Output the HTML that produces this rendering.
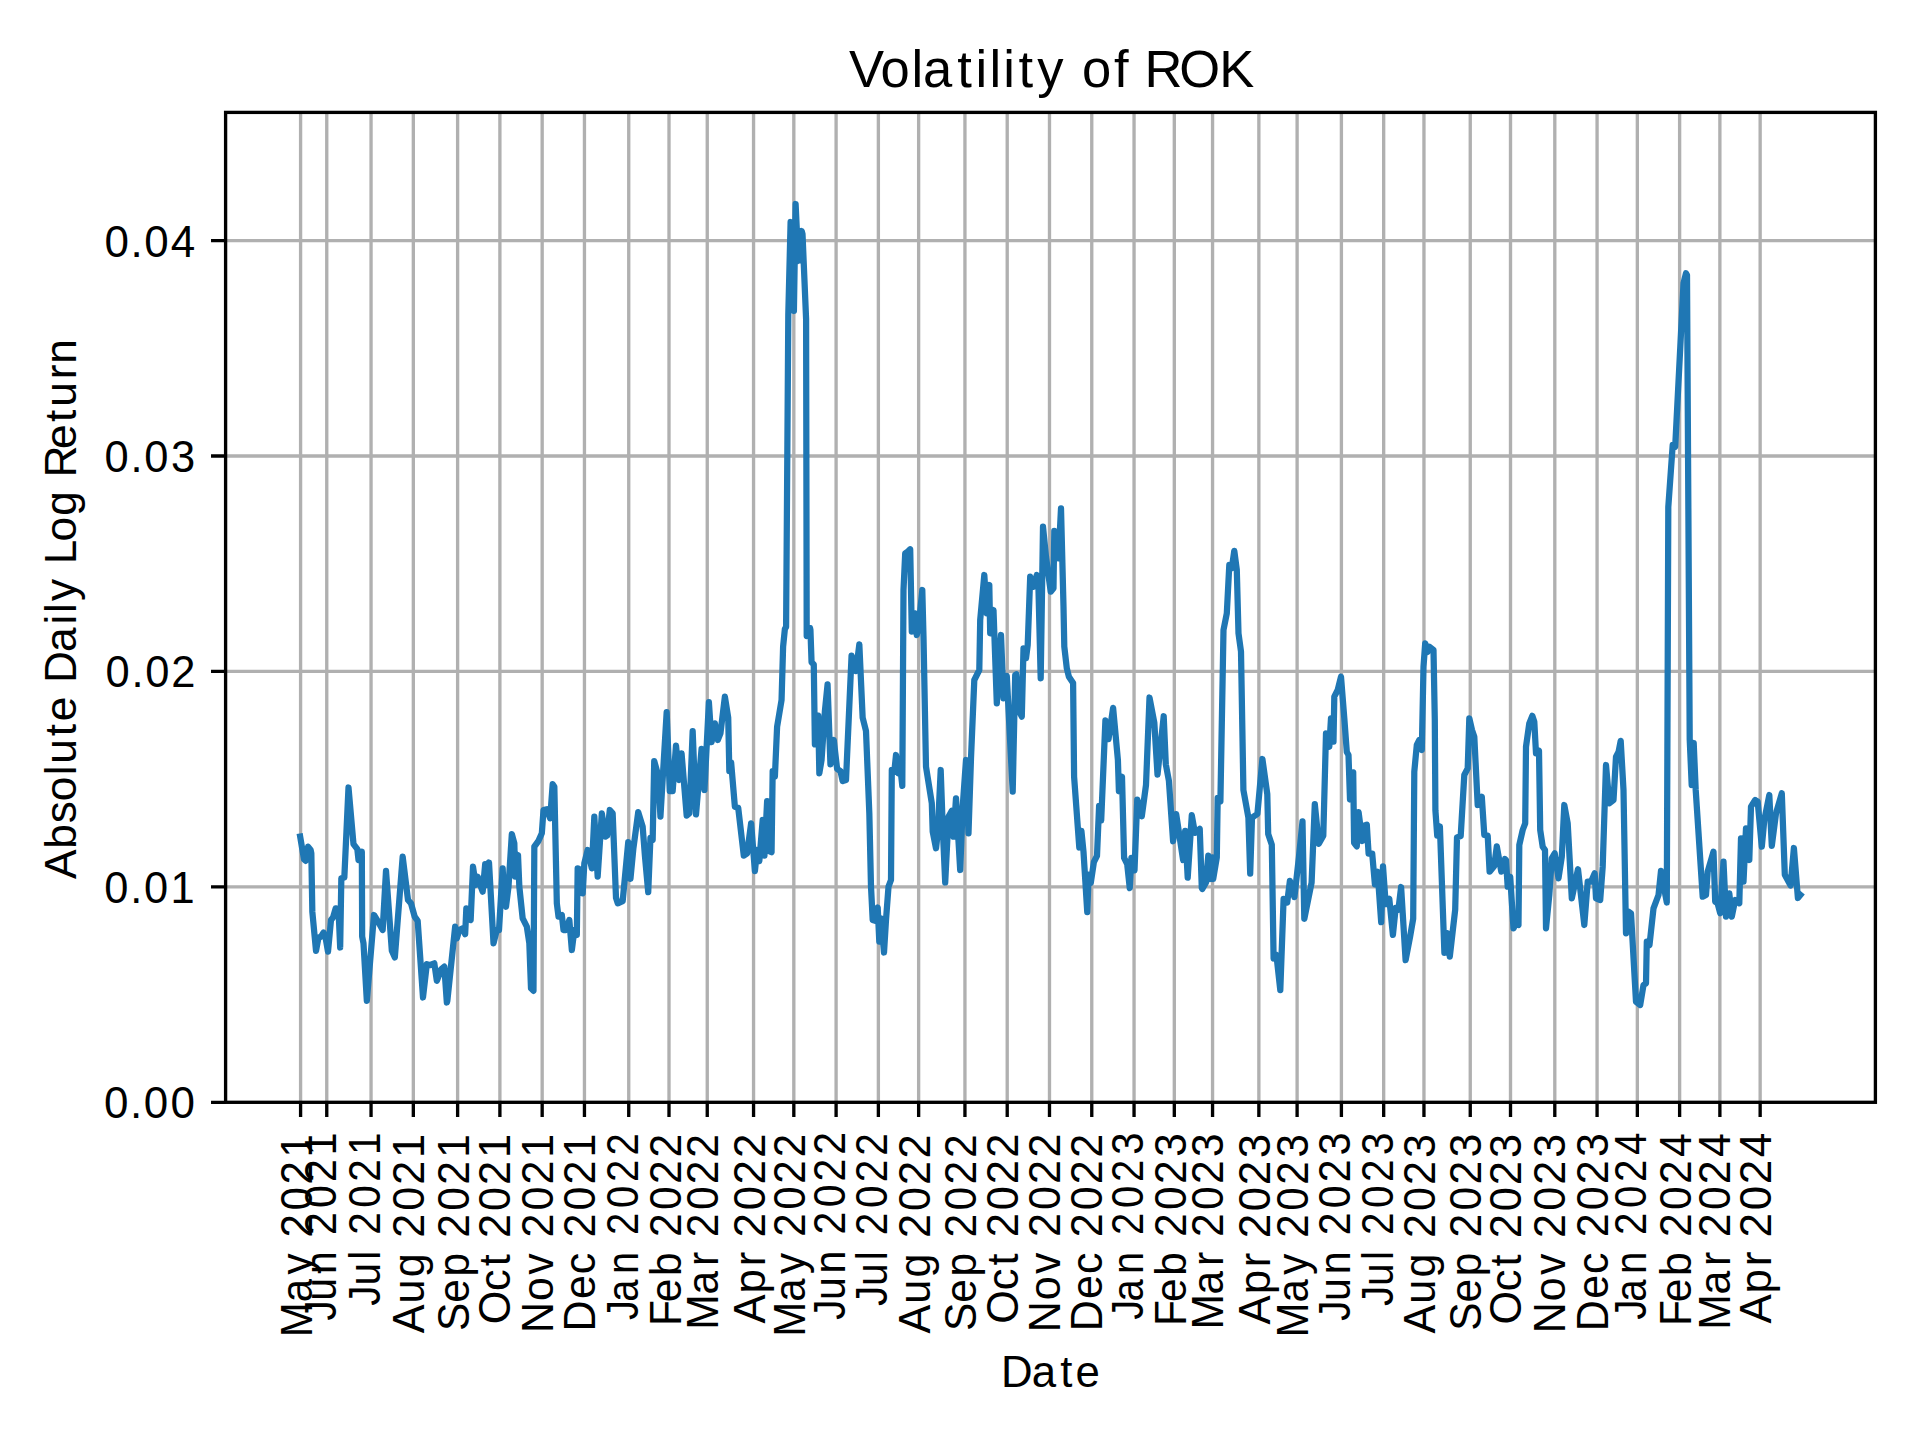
<!DOCTYPE html>
<html><head><meta charset="utf-8"><title>Volatility of ROK</title>
<style>html,body{margin:0;padding:0;background:#fff;width:1920px;height:1440px;overflow:hidden}svg{display:block}</style>
</head><body>
<svg width="1920" height="1440" viewBox="0 0 1920 1440">
<rect width="1920" height="1440" fill="#fff"/>
<path d="M300.59 112.40V1102.30M326.76 112.40V1102.30M371.05 112.40V1102.30M413.33 112.40V1102.30M457.62 112.40V1102.30M499.89 112.40V1102.30M542.17 112.40V1102.30M584.45 112.40V1102.30M628.74 112.40V1102.30M669.00 112.40V1102.30M707.25 112.40V1102.30M753.56 112.40V1102.30M793.82 112.40V1102.30M836.10 112.40V1102.30M878.37 112.40V1102.30M918.64 112.40V1102.30M964.94 112.40V1102.30M1007.22 112.40V1102.30M1049.49 112.40V1102.30M1091.77 112.40V1102.30M1134.05 112.40V1102.30M1174.31 112.40V1102.30M1212.56 112.40V1102.30M1258.86 112.40V1102.30M1297.11 112.40V1102.30M1341.40 112.40V1102.30M1383.68 112.40V1102.30M1423.95 112.40V1102.30M1470.25 112.40V1102.30M1510.51 112.40V1102.30M1554.80 112.40V1102.30M1597.08 112.40V1102.30M1637.34 112.40V1102.30M1679.62 112.40V1102.30M1719.88 112.40V1102.30M1760.15 112.40V1102.30M225.60 886.88H1875.40M225.60 671.45H1875.40M225.60 456.03H1875.40M225.60 240.60H1875.40" stroke="#b0b0b0" stroke-width="3.333" fill="none"/>
<path d="M300.17 836.67 L304.00 859.17 L305.67 860.83 L308.00 846.67 L310.67 850.00 L311.33 853.33 L312.33 911.67 L316.00 950.83 L318.50 937.50 L321.00 936.67 L323.50 932.50 L325.67 938.33 L328.00 951.67 L331.00 920.00 L333.00 917.50 L335.67 908.33 L338.50 909.17 L340.17 947.50 L341.33 878.33 L344.33 877.50 L348.50 787.50 L353.50 844.17 L357.33 849.17 L358.50 860.00 L361.83 851.67 L362.17 936.67 L363.50 943.33 L366.83 1000.83 L374.00 915.00 L377.67 920.83 L382.67 930.00 L386.00 870.83 L391.83 950.83 L394.83 957.50 L402.67 856.67 L408.00 900.00 L411.00 903.33 L414.67 916.67 L417.67 920.83 L423.00 997.50 L426.83 964.17 L430.17 965.00 L434.33 963.33 L436.83 980.83 L441.33 969.17 L444.33 966.67 L446.83 1002.50 L447.33 1000.83 L455.17 926.67 L456.83 938.33 L459.33 930.00 L462.67 928.33 L465.17 934.17 L466.33 908.33 L469.33 918.33 L470.67 920.00 L473.00 866.67 L475.67 885.00 L477.67 876.67 L480.17 885.00 L482.67 891.67 L485.17 864.17 L486.83 885.00 L489.00 862.50 L493.50 943.33 L496.83 930.00 L499.00 930.00 L502.67 868.33 L504.33 903.33 L506.00 906.67 L508.50 886.67 L511.83 834.17 L514.33 843.33 L515.17 876.67 L518.00 855.00 L519.33 886.67 L522.67 918.33 L526.83 926.67 L529.33 943.33 L531.00 988.33 L533.50 990.83 L534.33 846.67 L538.50 840.83 L541.83 833.33 L543.50 810.00 L546.83 809.17 L550.17 818.33 L552.67 784.17 L554.33 786.67 L556.83 903.33 L558.50 916.67 L561.83 915.00 L563.50 930.00 L566.00 930.00 L569.33 920.00 L571.83 950.00 L574.33 930.00 L576.83 935.00 L577.67 868.33 L581.00 870.00 L582.67 893.33 L584.33 863.33 L587.67 850.00 L591.83 868.33 L594.33 816.67 L597.67 876.67 L601.83 813.33 L605.17 836.67 L607.11 835.56 L609.78 810.00 L612.67 813.33 L616.00 897.78 L617.78 903.33 L622.67 901.11 L628.22 842.22 L630.44 878.89 L633.33 848.89 L638.22 812.22 L642.67 826.67 L644.89 855.56 L648.22 892.22 L650.44 837.78 L652.67 840.00 L654.22 761.11 L658.22 775.56 L660.44 816.67 L666.67 712.22 L669.78 791.11 L672.67 791.11 L676.00 745.56 L679.33 780.00 L681.56 753.33 L686.67 815.56 L689.33 813.33 L692.67 731.11 L696.00 814.44 L701.56 748.89 L704.44 790.00 L708.89 702.22 L711.56 742.22 L714.89 723.33 L717.78 740.00 L720.44 733.33 L724.89 696.67 L728.22 717.78 L729.33 771.11 L731.11 762.22 L734.89 806.67 L738.22 807.78 L743.78 855.56 L747.11 853.33 L751.11 823.33 L754.89 871.11 L757.11 850.00 L759.33 861.11 L762.67 820.00 L764.44 855.56 L767.11 801.11 L769.33 851.11 L771.56 852.22 L772.67 771.11 L774.89 776.67 L777.11 726.67 L781.56 700.00 L783.11 646.67 L784.89 628.89 L786.10 627.00 L788.30 314.00 L790.60 222.00 L793.90 311.00 L795.60 204.00 L798.30 261.00 L801.70 231.00 L802.50 234.00 L806.10 319.00 L806.70 636.00 L810.00 628.00 L810.44 630.00 L811.56 662.22 L813.78 664.44 L814.89 744.44 L818.22 715.56 L819.33 773.33 L821.56 760.00 L824.89 711.11 L827.56 684.44 L830.44 764.44 L833.78 740.00 L837.11 768.89 L840.44 771.11 L842.67 781.11 L846.00 780.00 L851.56 655.56 L856.00 671.11 L859.33 644.44 L862.67 717.78 L866.00 731.11 L869.33 813.33 L871.00 886.70 L872.70 920.00 L875.20 920.80 L877.70 907.50 L879.30 941.70 L881.00 918.30 L884.00 952.50 L886.00 920.00 L888.50 886.70 L891.00 880.00 L891.80 770.00 L894.30 771.70 L896.00 755.00 L898.50 773.30 L899.70 761.70 L902.30 785.80 L903.50 590.00 L905.20 553.30 L907.70 551.70 L910.20 549.20 L911.80 631.70 L915.20 613.30 L916.80 635.00 L919.30 620.00 L922.30 590.00 L923.50 636.70 L926.00 766.70 L931.80 803.30 L932.70 831.70 L936.00 848.30 L937.70 833.30 L940.70 770.00 L942.70 826.70 L945.20 882.50 L948.50 816.70 L951.80 810.80 L953.50 836.70 L956.00 798.30 L960.20 870.00 L962.70 806.70 L966.00 760.00 L968.50 833.30 L971.00 758.30 L974.30 680.00 L979.30 670.00 L980.20 620.00 L984.30 575.00 L986.80 613.30 L989.30 585.00 L990.20 633.30 L993.50 610.00 L996.80 703.30 L1001.00 635.00 L1003.50 698.30 L1006.80 675.80 L1012.70 791.70 L1015.20 675.00 L1016.30 674.20 L1019.30 711.70 L1021.80 716.70 L1023.50 648.30 L1026.00 658.30 L1027.70 645.00 L1030.20 576.70 L1033.50 586.70 L1036.80 575.00 L1038.50 590.00 L1040.70 678.30 L1043.00 526.70 L1046.00 556.70 L1050.70 591.70 L1053.50 588.30 L1054.30 530.80 L1056.00 556.70 L1058.50 558.30 L1061.00 508.30 L1063.50 606.70 L1064.30 646.70 L1066.80 668.30 L1068.90 676.70 L1073.10 682.90 L1074.10 776.70 L1079.30 847.50 L1081.40 830.80 L1083.50 851.70 L1087.25 912.10 L1088.70 874.60 L1090.80 882.90 L1093.90 862.00 L1097.00 855.80 L1099.10 805.80 L1101.20 820.40 L1105.40 720.40 L1108.50 739.20 L1113.10 707.90 L1117.90 760.00 L1118.90 791.25 L1122.00 776.70 L1124.10 857.90 L1127.20 864.20 L1129.75 888.10 L1131.40 857.90 L1134.50 870.40 L1137.25 799.60 L1141.80 816.25 L1146.00 785.00 L1149.50 697.50 L1154.30 722.50 L1157.50 774.60 L1163.70 716.25 L1165.80 764.20 L1168.90 780.80 L1173.10 841.25 L1176.20 814.20 L1183.10 860.00 L1185.20 830.80 L1187.70 877.70 L1191.80 815.20 L1194.90 832.90 L1199.75 828.75 L1201.80 888.10 L1202.30 889.00 L1205.90 882.60 L1208.30 855.60 L1210.40 879.00 L1212.25 857.40 L1213.20 879.00 L1216.80 857.40 L1217.70 797.80 L1220.40 801.40 L1223.50 630.00 L1226.80 613.30 L1229.30 565.00 L1231.80 568.30 L1234.30 550.80 L1236.80 570.00 L1238.50 633.30 L1241.00 651.70 L1243.40 790.00 L1248.40 817.60 L1250.20 873.60 L1252.00 817.60 L1257.40 814.00 L1262.40 759.00 L1267.30 794.20 L1268.20 833.90 L1271.80 844.70 L1273.60 958.50 L1276.40 954.90 L1280.30 990.10 L1283.60 898.90 L1287.20 902.50 L1289.90 880.80 L1294.40 897.10 L1298.90 857.40 L1302.50 821.30 L1304.30 918.80 L1311.60 882.60 L1314.80 804.10 L1318.80 843.80 L1323.30 835.70 L1326.00 733.30 L1329.30 746.70 L1331.00 718.30 L1333.50 741.70 L1334.30 696.70 L1337.70 690.00 L1341.00 676.70 L1344.30 718.30 L1346.80 752.00 L1348.50 755.00 L1350.00 799.50 L1353.20 772.40 L1354.10 842.80 L1356.80 846.40 L1358.60 812.10 L1362.30 841.00 L1363.50 826.00 L1366.80 824.70 L1368.60 853.60 L1372.20 853.60 L1374.90 884.30 L1377.60 871.70 L1381.20 922.20 L1383.00 866.30 L1385.70 904.20 L1389.30 898.80 L1392.90 934.90 L1395.70 907.80 L1398.40 909.60 L1401.10 887.00 L1405.60 960.20 L1410.10 936.70 L1413.20 918.60 L1414.30 771.70 L1416.80 745.00 L1419.30 740.00 L1421.80 750.00 L1423.50 666.70 L1425.20 643.30 L1427.50 652.00 L1429.30 646.70 L1433.50 650.00 L1434.80 720.00 L1435.40 810.30 L1437.20 835.60 L1439.90 826.50 L1444.40 952.90 L1447.10 933.10 L1449.80 956.60 L1455.20 909.60 L1457.00 837.40 L1460.70 836.00 L1464.30 775.00 L1467.70 768.30 L1469.30 718.30 L1472.00 730.00 L1474.30 736.70 L1477.70 805.00 L1481.80 796.70 L1484.30 835.00 L1487.70 835.60 L1489.60 871.70 L1494.10 866.30 L1496.80 846.40 L1501.30 871.70 L1504.90 859.00 L1506.00 860.00 L1507.70 886.70 L1510.20 876.70 L1513.50 928.30 L1516.00 923.30 L1518.50 925.00 L1519.30 845.00 L1522.70 830.00 L1525.20 823.30 L1526.00 746.70 L1529.30 723.30 L1532.30 715.80 L1534.30 721.70 L1536.00 753.30 L1539.00 750.80 L1540.20 830.00 L1542.70 846.70 L1545.00 850.00 L1546.00 928.30 L1549.30 895.00 L1551.80 858.30 L1554.70 853.30 L1558.50 878.30 L1561.80 856.70 L1564.30 805.00 L1567.70 823.30 L1571.80 898.30 L1578.00 869.20 L1584.30 925.00 L1587.70 881.70 L1591.00 881.70 L1594.70 873.30 L1596.00 898.30 L1600.20 900.00 L1602.70 866.70 L1606.00 765.00 L1609.30 803.30 L1613.50 800.00 L1616.00 756.70 L1618.50 752.00 L1620.70 740.80 L1623.50 790.00 L1626.00 933.30 L1628.50 911.70 L1631.00 913.30 L1636.00 1001.70 L1640.20 1005.00 L1643.50 985.00 L1646.00 983.30 L1646.80 941.70 L1649.50 945.00 L1653.50 908.30 L1658.50 895.00 L1661.00 870.80 L1663.50 885.00 L1666.80 902.50 L1668.30 507.00 L1672.70 445.00 L1675.20 446.70 L1681.00 333.00 L1683.50 283.30 L1686.00 273.30 L1687.00 275.00 L1689.70 739.00 L1691.70 785.00 L1693.70 743.00 L1695.70 790.00 L1702.70 896.70 L1706.00 895.00 L1707.70 871.70 L1713.50 851.70 L1715.20 901.70 L1717.50 903.00 L1720.20 913.30 L1723.50 861.70 L1726.00 916.70 L1729.30 893.30 L1731.80 916.70 L1735.20 900.00 L1739.30 903.30 L1741.00 838.30 L1743.50 881.70 L1746.00 828.30 L1749.30 860.00 L1751.00 806.70 L1755.20 800.00 L1757.70 801.70 L1761.80 846.70 L1764.30 820.00 L1769.30 795.00 L1771.80 845.80 L1776.00 813.30 L1781.80 793.30 L1784.80 874.70 L1790.60 885.60 L1793.90 848.00 L1797.90 898.00 L1800.40 895.00" stroke="#1f77b4" stroke-width="6.25" fill="none" stroke-linejoin="round" stroke-linecap="square"/>
<rect x="225.60" y="112.40" width="1649.80" height="989.90" stroke="#000" stroke-width="3.333" fill="none" stroke-linejoin="miter"/>
<path d="M300.59 1102.30V1116.88M326.76 1102.30V1116.88M371.05 1102.30V1116.88M413.33 1102.30V1116.88M457.62 1102.30V1116.88M499.89 1102.30V1116.88M542.17 1102.30V1116.88M584.45 1102.30V1116.88M628.74 1102.30V1116.88M669.00 1102.30V1116.88M707.25 1102.30V1116.88M753.56 1102.30V1116.88M793.82 1102.30V1116.88M836.10 1102.30V1116.88M878.37 1102.30V1116.88M918.64 1102.30V1116.88M964.94 1102.30V1116.88M1007.22 1102.30V1116.88M1049.49 1102.30V1116.88M1091.77 1102.30V1116.88M1134.05 1102.30V1116.88M1174.31 1102.30V1116.88M1212.56 1102.30V1116.88M1258.86 1102.30V1116.88M1297.11 1102.30V1116.88M1341.40 1102.30V1116.88M1383.68 1102.30V1116.88M1423.95 1102.30V1116.88M1470.25 1102.30V1116.88M1510.51 1102.30V1116.88M1554.80 1102.30V1116.88M1597.08 1102.30V1116.88M1637.34 1102.30V1116.88M1679.62 1102.30V1116.88M1719.88 1102.30V1116.88M1760.15 1102.30V1116.88M225.60 1102.30H211.02M225.60 886.88H211.02M225.60 671.45H211.02M225.60 456.03H211.02M225.60 240.60H211.02" stroke="#000" stroke-width="3.333" fill="none"/>
<g font-family="Liberation Sans, sans-serif" fill="#000"><text transform="matrix(1.0063 0 0 1 849.386 86.797)" font-size="52.250" x="-0.44 30.82 61.64 73.17 107.15 125.40 139.18 153.01 168.04 186.80 202.48 231.06 262.90 278.57 293.25 327.84 367.68" y="0">Volatility of ROK</text><text transform="matrix(1.0052 0 0 1 1000.770 1386.893)" font-size="43.542" x="0.30 30.95 59.29 74.30" y="0">Date</text><text transform="matrix(0 -1.0156 1 0 76.497 878.375)" font-size="43.542" x="-0.50 29.23 54.20 75.94 101.45 112.79 139.88 154.67 167.74 192.49 222.86 249.98 261.36 273.14 286.20 309.38 331.81 357.13 370.19 394.72 422.80 449.33 464.34 491.50 506.67" y="0">Absolute Daily Log Return</text><text transform="matrix(0 -0.9505 1 0 311.630 1337.833)" font-size="44.167" x="0.53 37.36 66.60 79.85 105.64 134.10 161.42 189.68" y="0">May 2021</text><text transform="matrix(0 -0.9275 1 0 335.792 1314.693)" font-size="44.167" x="-6.49 15.10 43.77 57.02 85.87 115.05 143.04 172.01" y="0">Jun 2021</text><text transform="matrix(0 -0.9148 1 0 379.660 1299.777)" font-size="44.167" x="-6.45 15.48 43.72 56.97 71.02 100.60 128.98 158.36" y="0">Jul 2021</text><text transform="matrix(0 -0.9773 1 0 423.630 1333.061)" font-size="44.167" x="-0.16 30.30 57.17 70.42 97.51 125.20 151.76 179.23" y="0">Aug 2021</text><text transform="matrix(0 -0.9599 1 0 468.630 1330.358)" font-size="44.167" x="-0.72 28.71 56.04 69.29 96.55 124.74 151.78 179.76" y="0">Sep 2021</text><text transform="matrix(0 -0.9798 1 0 509.666 1323.908)" font-size="44.167" x="-0.43 33.62 58.95 72.20 87.72 115.34 141.83 169.23" y="0">Oct 2021</text><text transform="matrix(0 -0.9731 1 0 552.666 1332.922)" font-size="44.167" x="0.06 32.86 59.85 73.10 97.94 125.74 152.42 180.01" y="0">Nov 2021</text><text transform="matrix(0 -0.9727 1 0 594.666 1332.076)" font-size="44.167" x="0.63 33.96 59.57 72.82 97.27 125.09 151.78 179.38" y="0">Dec 2021</text><text transform="matrix(0 -0.9043 1 0 637.792 1314.093)" font-size="44.167" x="-6.41 13.78 44.25 57.50 87.43 117.35 146.06 175.37" y="0">Jan 2022</text><text transform="matrix(0 -0.9594 1 0 680.534 1324.979)" font-size="44.167" x="-1.06 23.76 51.10 64.35 91.64 119.84 146.90 174.53" y="0">Feb 2022</text><text transform="matrix(0 -0.9619 1 0 717.666 1329.906)" font-size="44.167" x="0.30 36.76 66.33 79.58 96.41 124.54 151.52 179.08" y="0">Mar 2022</text><text transform="matrix(0 -0.9912 1 0 764.630 1323.259)" font-size="44.167" x="-0.36 30.08 57.54 70.79 86.61 113.91 140.10 166.84" y="0">Apr 2022</text><text transform="matrix(0 -0.9516 1 0 804.630 1337.170)" font-size="44.167" x="0.50 37.30 66.51 79.76 105.50 133.93 161.21 189.07" y="0">May 2022</text><text transform="matrix(0 -0.9290 1 0 844.792 1314.030)" font-size="44.167" x="-6.50 15.06 43.68 56.93 85.72 114.85 142.79 171.33" y="0">Jun 2022</text><text transform="matrix(0 -0.9166 1 0 886.660 1300.114)" font-size="44.167" x="-6.45 15.43 43.63 56.88 70.87 100.39 128.71 157.63" y="0">Jul 2022</text><text transform="matrix(0 -0.9783 1 0 929.630 1333.398)" font-size="44.167" x="-0.17 30.26 57.10 70.35 97.40 125.06 151.60 178.70" y="0">Aug 2022</text><text transform="matrix(0 -0.9611 1 0 975.630 1330.195)" font-size="44.167" x="-0.74 28.66 55.96 69.21 96.42 124.58 151.59 179.18" y="0">Sep 2022</text><text transform="matrix(0 -0.9808 1 0 1017.666 1323.245)" font-size="44.167" x="-0.45 33.57 58.88 72.13 87.62 115.21 141.67 168.70" y="0">Oct 2022</text><text transform="matrix(0 -0.9742 1 0 1059.666 1332.259)" font-size="44.167" x="0.04 32.81 59.78 73.03 97.82 125.60 152.25 179.46" y="0">Nov 2022</text><text transform="matrix(0 -0.9738 1 0 1101.666 1331.913)" font-size="44.167" x="0.61 33.91 59.49 72.74 97.16 124.95 151.61 178.83" y="0">Dec 2022</text><text transform="matrix(0 -0.9041 1 0 1142.792 1314.009)" font-size="44.167" x="-6.41 13.78 44.26 57.51 87.45 117.38 146.10 176.08" y="0">Jan 2023</text><text transform="matrix(0 -0.9589 1 0 1185.534 1324.895)" font-size="44.167" x="-1.05 23.77 51.14 64.39 91.69 119.91 146.98 175.26" y="0">Feb 2023</text><text transform="matrix(0 -0.9614 1 0 1222.666 1329.823)" font-size="44.167" x="0.31 36.78 66.37 79.62 96.47 124.61 151.61 179.81" y="0">Mar 2023</text><text transform="matrix(0 -0.9905 1 0 1269.630 1324.176)" font-size="44.167" x="-0.35 30.11 57.58 70.83 86.68 114.00 140.21 167.58" y="0">Apr 2023</text><text transform="matrix(0 -0.9512 1 0 1307.630 1338.087)" font-size="44.167" x="0.51 37.32 66.55 79.80 105.55 134.00 161.29 189.79" y="0">May 2023</text><text transform="matrix(0 -0.9286 1 0 1349.792 1314.947)" font-size="44.167" x="-6.49 15.07 43.71 56.96 85.76 114.90 142.85 172.04" y="0">Jun 2023</text><text transform="matrix(0 -0.9163 1 0 1392.660 1300.031)" font-size="44.167" x="-6.45 15.44 43.64 56.89 70.89 100.43 128.76 158.34" y="0">Jul 2023</text><text transform="matrix(0 -0.9777 1 0 1434.630 1333.315)" font-size="44.167" x="-0.16 30.29 57.15 70.40 97.47 125.15 151.70 179.43" y="0">Aug 2023</text><text transform="matrix(0 -0.9605 1 0 1480.630 1330.112)" font-size="44.167" x="-0.73 28.68 56.00 69.25 96.48 124.65 151.68 179.90" y="0">Sep 2023</text><text transform="matrix(0 -0.9802 1 0 1520.666 1324.162)" font-size="44.167" x="-0.44 33.60 58.92 72.17 87.68 115.29 141.78 169.44" y="0">Oct 2023</text><text transform="matrix(0 -0.9736 1 0 1564.666 1333.176)" font-size="44.167" x="0.05 32.83 59.82 73.07 97.89 125.68 152.35 180.19" y="0">Nov 2023</text><text transform="matrix(0 -0.9732 1 0 1607.666 1331.830)" font-size="44.167" x="0.62 33.94 59.54 72.79 97.22 125.03 151.70 179.56" y="0">Dec 2023</text><text transform="matrix(0 -0.9107 1 0 1645.792 1314.011)" font-size="44.167" x="-6.43 13.59 43.85 57.10 86.73 116.44 144.95 174.64" y="0">Jan 2024</text><text transform="matrix(0 -0.9649 1 0 1690.534 1324.897)" font-size="44.167" x="-1.13 23.55 50.74 63.99 91.04 119.09 145.99 174.03" y="0">Feb 2024</text><text transform="matrix(0 -0.9674 1 0 1729.666 1329.824)" font-size="44.167" x="0.20 36.48 65.91 79.16 95.80 123.77 150.61 178.57" y="0">Mar 2024</text><text transform="matrix(0 -0.9963 1 0 1770.630 1323.177)" font-size="44.167" x="-0.44 29.86 57.20 70.45 86.10 113.26 139.32 166.48" y="0">Apr 2024</text><text transform="matrix(0.9961 0 0 1 103.123 1117.666)" font-size="44.167" x="1.01 27.11 40.92 67.54" y="0">0.00</text><text transform="matrix(0.9832 0 0 1 103.163 902.666)" font-size="44.167" x="1.19 27.54 41.62 68.37" y="0">0.01</text><text transform="matrix(0.9853 0 0 1 104.326 686.666)" font-size="44.167" x="1.16 27.47 41.51 67.86" y="0">0.02</text><text transform="matrix(0.9839 0 0 1 103.409 471.666)" font-size="44.167" x="1.18 27.52 41.59 68.59" y="0">0.03</text><text transform="matrix(0.9961 0 0 1 103.408 256.666)" font-size="44.167" x="1.01 27.11 40.92 67.53" y="0">0.04</text></g>
</svg>
</body></html>
